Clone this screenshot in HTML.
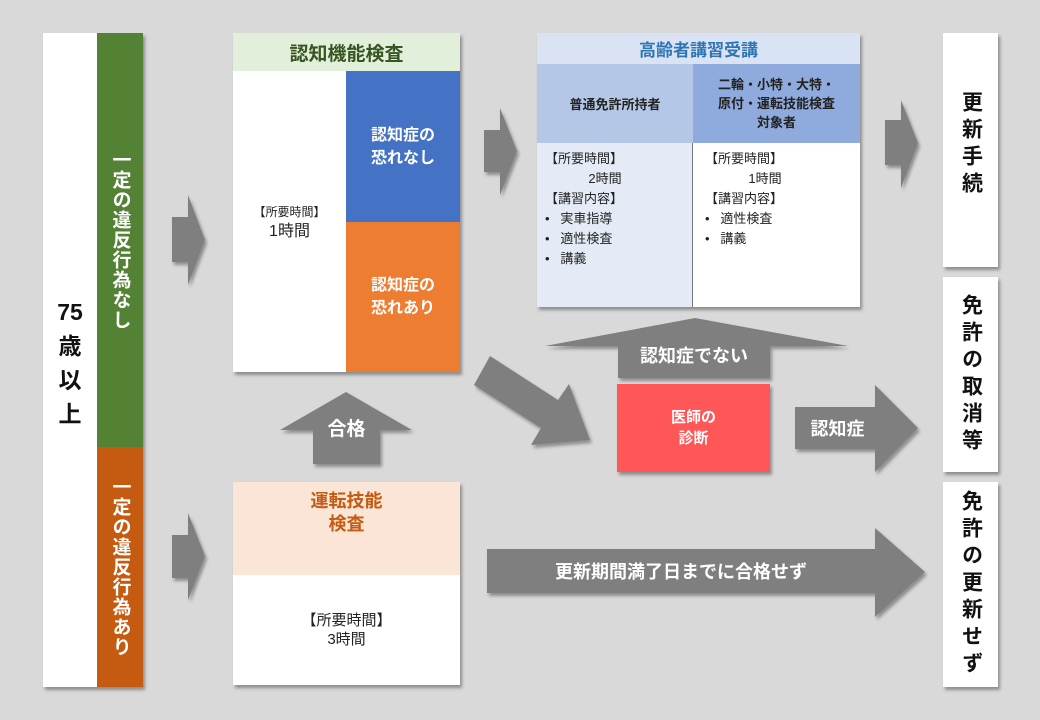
<!DOCTYPE html>
<html><head><meta charset="utf-8"><style>
*{margin:0;padding:0;box-sizing:border-box}
body{width:1040px;height:720px;background:#d9d9d9;position:relative;overflow:hidden;font-family:"Liberation Sans","Noto Sans CJK JP",sans-serif}
.a{position:absolute}
.sh{box-shadow:2px 3px 3px rgba(0,0,0,.35)}
.c{display:flex;align-items:center;justify-content:center;text-align:center}
.v{writing-mode:vertical-rl;text-orientation:upright;font-weight:bold}
.b{font-weight:bold}
.t{font-size:14px;color:#222;line-height:19px}
</style></head><body>
<svg class="a" style="left:0;top:0" width="1040" height="720">
<defs><filter id="f" x="-10%" y="-10%" width="130%" height="130%"><feDropShadow dx="2" dy="3" stdDeviation="1.5" flood-opacity="0.35"/></filter></defs>
<g fill="#7f7f7f" filter="url(#f)">
<polygon points="172,217 188,217 188,195 205,240 188,285 188,262 172,262"/>
<polygon points="172,535 188,535 188,513 205,556 188,600 188,578 172,578"/>
<polygon points="484,130 500,130 500,108 517,151 500,195 500,172 484,172"/>
<polygon points="885,120 901,120 901,100 918,143 901,188 901,165 885,165"/>
<polygon points="313,464 313,430 280,430 346,392 412,430 380,430 380,464"/>
<polygon points="618,378 618,346 545,346 695,318 848,346 770,346 770,378"/>
<polygon points="795,407 875,407 875,385 918,428 875,472 875,449 795,449"/>
<polygon points="487,549 875,549 875,528 925,572 875,617 875,593 487,593"/>
<polygon points="490,356 558,400 569,384 590,440 531,445 541,428 474,385"/>
</g>
</svg>
<div class="a sh" style="left:43px;top:33px;width:100px;height:654px;background:#fff"></div>
<div class="a c b" style="left:43px;top:295px;width:54px;font-size:23px;line-height:34px;color:#111;flex-direction:column">75<br>歳<br>以<br>上</div>
<div class="a c" style="left:97px;top:33px;width:46px;height:414px;background:#548235"><span class="v" style="color:#fff;font-size:19px;letter-spacing:1px">一定の違反行為なし</span></div>
<div class="a c" style="left:97px;top:447px;width:46px;height:240px;background:#c55a11"><span class="v" style="color:#fff;font-size:19px;letter-spacing:1px">一定の違反行為あり</span></div>

<div class="a sh" style="left:233px;top:33px;width:227px;height:339px;background:#fff"></div>
<div class="a c b" style="left:233px;top:33px;width:227px;height:38px;background:#e2efda;color:#375623;font-size:19px">認知機能検査</div>
<div class="a c t" style="left:233px;top:71px;width:113px;height:301px;flex-direction:column"><span style="font-size:12px">【所要時間】</span><span style="font-size:16px">1時間</span></div>
<div class="a c b" style="left:346px;top:71px;width:114px;height:151px;background:#4472c4;color:#fff;font-size:16px;line-height:23px">認知症の<br>恐れなし</div>
<div class="a c b" style="left:346px;top:222px;width:114px;height:150px;background:#ed7d31;color:#fff;font-size:16px;line-height:23px">認知症の<br>恐れあり</div>
<div class="a c b" style="left:313px;top:414px;width:67px;color:#fff;font-size:19px">合格</div>

<div class="a sh" style="left:233px;top:482px;width:227px;height:203px;background:#fff"></div>
<div class="a c b" style="left:233px;top:482px;width:227px;height:93px;background:#fbe5d6;color:#c55a11;font-size:18px;line-height:23px;align-items:flex-start;padding-top:8px">運転技能<br>検査</div>
<div class="a c t" style="left:233px;top:575px;width:227px;height:110px;font-size:15px">【所要時間】<br>3時間</div>

<div class="a sh" style="left:537px;top:33px;width:323px;height:274px;background:#fff"></div>
<div class="a c b" style="left:537px;top:33px;width:323px;height:31px;background:#dae3f3;color:#2e75b6;font-size:17px">高齢者講習受講</div>
<div class="a c b" style="left:537px;top:64px;width:156px;height:79px;background:#b4c7e7;color:#222;font-size:13px">普通免許所持者</div>
<div class="a c b" style="left:693px;top:64px;width:167px;height:79px;background:#8faadc;color:#222;font-size:13px;line-height:19px">二輪・小特・大特・<br>原付・運転技能検査<br>対象者</div>
<div class="a" style="left:537px;top:143px;width:156px;height:164px;background:#e4ebf6;border-right:1px solid #777"></div>
<div class="a t" style="left:545px;top:149px;font-size:13px;line-height:20px">【所要時間】<br>&nbsp;&nbsp;&nbsp;&nbsp;&nbsp;&nbsp;&nbsp;&nbsp;&nbsp;&nbsp;&nbsp;&nbsp;2時間<br>【講習内容】<br>•&nbsp;&nbsp;&nbsp;実車指導<br>•&nbsp;&nbsp;&nbsp;適性検査<br>•&nbsp;&nbsp;&nbsp;講義</div>
<div class="a t" style="left:705px;top:149px;font-size:13px;line-height:20px">【所要時間】<br>&nbsp;&nbsp;&nbsp;&nbsp;&nbsp;&nbsp;&nbsp;&nbsp;&nbsp;&nbsp;&nbsp;&nbsp;1時間<br>【講習内容】<br>•&nbsp;&nbsp;&nbsp;適性検査<br>•&nbsp;&nbsp;&nbsp;講義</div>

<div class="a c b" style="left:618px;top:340px;width:152px;height:30px;color:#fff;font-size:18px">認知症でない</div>
<div class="a c b sh" style="left:617px;top:384px;width:153px;height:88px;background:#ff5757;color:#fff;font-size:15px;line-height:21px">医師の<br>診断</div>
<div class="a c b" style="left:795px;top:407px;width:85px;height:42px;color:#fff;font-size:18px">認知症</div>
<div class="a c b" style="left:487px;top:549px;width:388px;height:44px;color:#fff;font-size:18px">更新期間満了日までに合格せず</div>

<div class="a sh c" style="left:943px;top:33px;width:55px;height:234px;background:#fff;align-items:flex-start;padding-top:58px"><span class="v" style="font-size:21px;letter-spacing:6px;color:#111">更新手続</span></div>
<div class="a sh c" style="left:943px;top:277px;width:55px;height:195px;background:#fff"><span class="v" style="font-size:21px;letter-spacing:6px;color:#111">免許の取消等</span></div>
<div class="a sh c" style="left:943px;top:482px;width:55px;height:205px;background:#fff"><span class="v" style="font-size:21px;letter-spacing:6px;color:#111">免許の更新せず</span></div>
</body></html>
